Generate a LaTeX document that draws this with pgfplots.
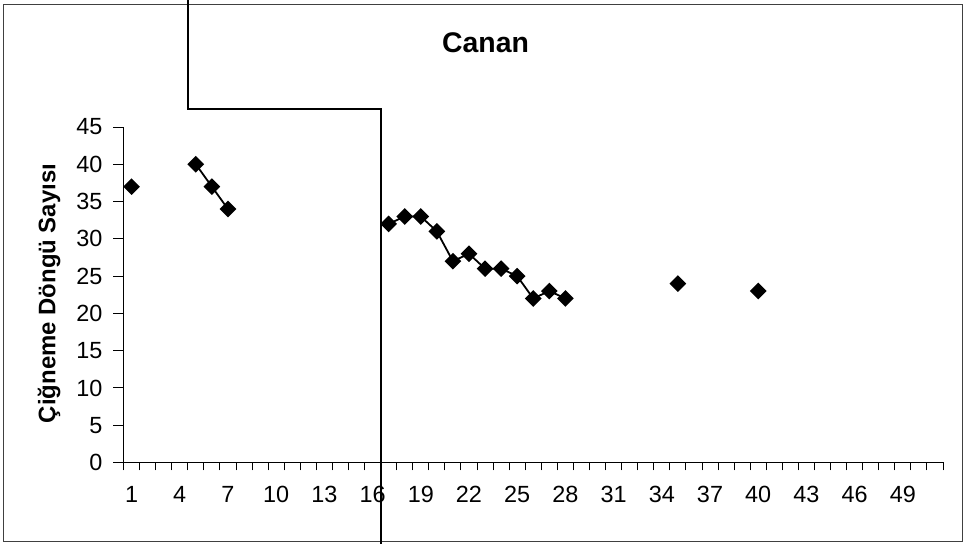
\documentclass[border=0pt]{standalone}
\usepackage{pgfplots}
\pgfplotsset{compat=1.18}
\usepackage{fontspec}
\setmainfont{Liberation Sans}
\begin{document}
\begin{tikzpicture}[x=1bp,y=1bp]
\useasboundingbox (-123.5,-81.5) rectangle (840.5,462.5);
\draw[line width=1bp, black!75] (-119.5,-79) rectangle (839,457.5);
\node[font=\fontsize{28.5}{28.5}\selectfont\bfseries] at (362,419.5) {Canan};
\node[font=\fontsize{24}{24}\selectfont\bfseries, rotate=90] at (-74.5,169) {Çiğneme Döngü Sayısı};
\begin{axis}[
  at={(0,0)}, anchor=origin,
  scale only axis,
  width=819.5bp, height=335.5bp,
  xmin=0.5, xmax=51.5, ymin=0, ymax=45,
  axis lines=left,
  axis line style={-, line width=1.2bp},
  xtick={1,4,...,49},
  minor xtick={0.5,1.5,...,51.5},
  ytick={0,5,...,45},
  tick align=outside,
  major tick length=10bp,
  minor tick length=8bp,
  x tick style={draw=none},
  minor x tick style={draw=black, line width=0.9bp},
  y tick style={draw=black, line width=0.9bp},
  /pgf/number format/assume math mode=true,
  xticklabel={\pgfmathprintnumber{\tick}},
  yticklabel={\pgfmathprintnumber{\tick}},
  tick label style={font=\fontsize{23.5}{23.5}\selectfont},
  xticklabel style={anchor=north, inner sep=0pt, yshift=-13.5bp},
  yticklabel style={anchor=east, inner sep=0pt, xshift=-11bp},
  clip=false,
  unbounded coords=jump,
]
\addplot[black, line width=1.8bp, mark=square*, mark size=5bp, mark options={rotate=45, solid, fill=black}]
coordinates {
(1,37) (2,nan)
(5,40) (6,37) (7,34) (8,nan)
(17,32) (18,33) (19,33) (20,31) (21,27) (22,28) (23,26) (24,26) (25,25) (26,22) (27,23) (28,22) (29,nan)
(35,24) (36,nan)
(40,23)
};
\draw[black, line width=1.9bp] (axis cs:4.5,62.1) |- (axis cs:16.5,47.4) -- (axis cs:16.5,-11);
\end{axis}
\end{tikzpicture}
\end{document}
